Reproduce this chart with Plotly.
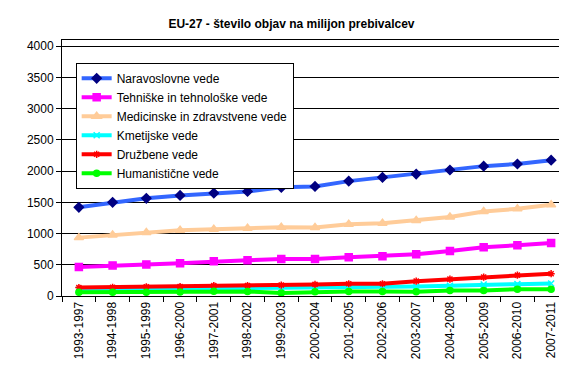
import plotly.graph_objects as go

categories = ["1993-1997", "1994-1998", "1995-1999", "1996-2000", "1997-2001",
              "1998-2002", "1999-2003", "2000-2004", "2001-2005", "2002-2006",
              "2003-2007", "2004-2008", "2005-2009", "2006-2010", "2007-2011"]

naravoslovne = [1420, 1500, 1565, 1610, 1648, 1675, 1740, 1755, 1840, 1900, 1953, 2018, 2080, 2114, 2175]
tehniske = [463, 490, 506, 523, 555, 571, 592, 592, 619, 635, 667, 720, 780, 812, 849]
medicinske = [935, 978, 1016, 1053, 1069, 1085, 1101, 1096, 1150, 1166, 1209, 1267, 1354, 1396, 1460]
kmetijske = [100, 105, 110, 112, 118, 120, 125, 132, 132, 142, 153, 164, 185, 190, 201]
druzbene = [135, 140, 148, 150, 165, 168, 175, 185, 196, 196, 238, 270, 302, 334, 357]
humanisticne = [60, 62, 62, 64, 75, 72, 50, 67, 72, 72, 70, 88, 88, 108, 110]

series = [
    ("Naravoslovne vede", naravoslovne, "#3366FF", "diamond", "#000080", 7),
    ("Tehniške in tehnološke vede", tehniske, "#FF00FF", "square", "#FF00FF", 7),
    ("Medicinske in zdravstvene vede", medicinske, "#FFCC99", "triangle-up", "#FFCC99", 8),
    ("Kmetijske vede", kmetijske, "#00FFFF", "x-thin", "#00FFFF", 6),
    ("Družbene vede", druzbene, "#FF0000", "asterisk", "#FF0000", 6),
    ("Humanistične vede", humanisticne, "#00FF00", "circle", "#00FF00", 6),
]

fig = go.Figure()
for name, vals, lc, sym, mc, ms in series:
    fig.add_trace(go.Scatter(
        x=categories, y=vals, name=name, mode="lines+markers",
        line=dict(color=lc, width=4),
        marker=dict(symbol=sym, color=mc, size=ms,
                    line=dict(color=mc, width=1.5)),
    ))

font = "Liberation Sans, Arial, sans-serif"
fig.update_layout(
    width=567, height=386,
    paper_bgcolor="white", plot_bgcolor="white",
    margin=dict(l=54, r=7, t=32, b=98),
    font=dict(family=font, size=12, color="black"),
    title=dict(text="<b>EU-27 - število objav na milijon prebivalcev</b>",
               x=0.5, xanchor="center", y=1 - 16 / 386, yanchor="middle",
               font=dict(family=font, size=12, color="black")),
    showlegend=True,
    legend=dict(x=0.027, y=0.911, xanchor="left", yanchor="top",
                bordercolor="black", borderwidth=1, bgcolor="white",
                font=dict(family=font, size=12, color="black"),
                tracegroupgap=0, itemwidth=30),
    xaxis=dict(type="category", range=[-0.5, 14.5], tickangle=-90,
               showline=True, linecolor="black", linewidth=1, mirror=True,
               ticks="outside", tickson="boundaries", ticklen=5,
               tickcolor="black", showgrid=False,
               tickfont=dict(family=font, size=12, color="black")),
    yaxis=dict(range=[0, 4100], tickvals=[0, 500, 1000, 1500, 2000, 2500, 3000, 3500, 4000],
               showline=True, linecolor="black", linewidth=1, mirror=True,
               ticks="outside", ticklen=5, tickcolor="black",
               showgrid=True, gridcolor="black", gridwidth=1, zeroline=False,
               tickfont=dict(family=font, size=12, color="black")),
)

fig.write_html("out.html")
